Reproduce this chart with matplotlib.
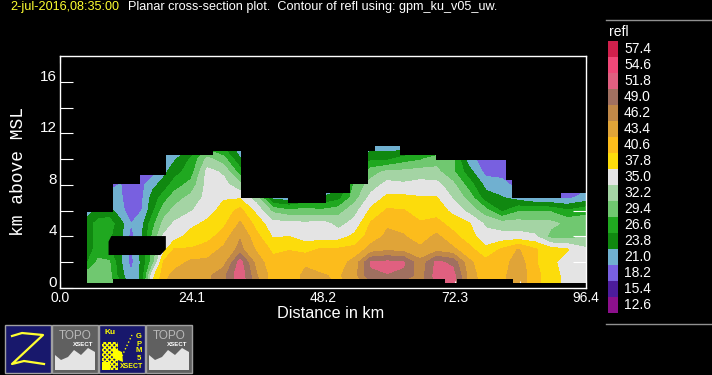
import numpy as np
import matplotlib
matplotlib.use('Agg')
import matplotlib.pyplot as plt
from matplotlib.patches import Rectangle, Polygon

# grid of the cross-section, km
dist = [5, 7, 9, 11, 13, 15, 17, 19, 21, 24, 27, 30, 33, 36, 39, 42, 45, 48, 51, 54, 57,
        60, 63, 66, 69, 72, 75, 78, 81, 84, 87, 90, 93, 96.4]
height = [0.4, 1, 2, 3, 4, 5, 6, 7, 8, 9, 10, 11]

# reflectivity, one list per distance, bottom to top
refl = [
    [31, 31, 26.5, 25, 25, 25.5, 22, 20, 20, 20, 20, 20],
    [30.5, 30.5, 30, 28, 28, 27.5, 25, 21, 20, 20, 20, 20],
    [30.5, 30.5, 29.8, 27, 27, 28, 25, 22, 20, 20, 20, 20],
    [27, 25, 24.5, 24, 25, 25, 22, 21.5, 21.2, 20, 20, 20],
    [22, 21.5, 20, 20.5, 20, 21, 19.5, 19, 19, 18, 18, 18],
    [24.5, 24.5, 24.5, 25, 23.5, 23, 21, 20.5, 20.3, 20, 20, 20],
    [38, 37, 31, 30, 30, 28.5, 26, 25, 23, 20, 20, 20],
    [43, 42, 41, 37, 35.5, 33, 31, 28, 25, 23, 22, 20],
    [45, 44.5, 42, 41, 36.5, 35.5, 33, 31, 28, 25.5, 23.5, 21],
    [46, 46, 44, 40.8, 39, 37, 34.8, 33, 30.5, 28, 27, 23],
    [45.5, 45.5, 44, 42, 39.5, 38.5, 36.5, 36, 36, 36, 33, 28],
    [48, 48, 45, 44, 42, 40, 39, 37.5, 36, 34.5, 30.5, 26],
    [54, 54, 53, 47, 46, 43.8, 41.5, 37.5, 33, 28, 24, 22],
    [47, 46.5, 45, 43, 41.5, 39.5, 37, 33.5, 30, 25, 22, 20],
    [42, 42, 41.5, 40, 37.5, 36, 31.5, 23, 21, 20, 20, 20],
    [42, 42, 41.5, 40.5, 37.8, 36, 30, 22, 21, 20, 20, 20],
    [44, 44, 43, 39.5, 36.5, 35.5, 30.5, 24, 21, 20, 20, 20],
    [44.5, 43.6, 42, 41, 36.5, 36.2, 30, 24, 21, 20, 20, 20],
    [43, 43, 42, 41, 36.5, 34, 31, 25.5, 22, 20, 20, 20],
    [44, 45, 44.5, 41.5, 38.5, 36, 34, 31, 30, 27, 23, 21],
    [48.5, 51.5, 52, 44.5, 42, 41, 38.5, 36, 33.5, 31, 26, 22.5],
    [49, 51.7, 52.5, 45.5, 44, 43, 41, 38.5, 36, 33, 26, 22],
    [48, 51.5, 52, 45, 43.6, 42.5, 40.8, 38.5, 35.5, 33, 28, 22],
    [47, 47.5, 47, 44, 42, 41, 39, 38, 36, 33.5, 29, 22],
    [53, 53, 52.5, 45, 44, 41.5, 39.5, 38, 36, 33, 31, 25],
    [53, 53, 51, 44, 41.5, 39.5, 37, 34.8, 33, 30, 30, 25],
    [45, 45, 44, 41.5, 39, 38, 34, 31, 28, 25, 22, 20],
    [42, 41.5, 41.5, 38.5, 36, 34.5, 30.5, 25, 23, 20, 19.5, 19],
    [42.5, 42.5, 42, 41, 36, 33.5, 26, 24, 22, 20, 19.5, 19],
    [45.5, 45.5, 45, 43.6, 36, 33.5, 29, 22.5, 20, 19, 19, 19],
    [41.5, 41.5, 41, 41, 35.5, 33, 29, 21, 20, 19, 19, 19],
    [39, 39, 38.5, 39, 31, 33, 29, 20.5, 20, 19, 19, 19],
    [36.8, 36.8, 36.5, 38, 31, 31.5, 27, 20.5, 20, 19, 19, 19],
    [36, 36, 36, 35.5, 32, 31, 28.5, 22, 20, 19, 19, 19],
]

# echo top and echo base, as steps
edge_x = [5.0, 9.8, 14.7, 19.4, 28.1, 33.1, 41.8, 48.7, 53.1, 56.5, 57.7, 62.3, 69.0,
          81.7, 82.8, 86.7, 91.9, 96.4]
top_km = [5.87, 8.06, 8.8, 10.3, 10.6, 7.0, 6.56, 7.39, 8.06, 10.6, 11.0, 10.3, 9.92,
          8.4, 7.0, 6.95, 7.34]
base_x = [5.0, 9.8, 70.5, 72.8, 83.0, 96.4]
base_km = [0.41, 0.72, 0.41, 0.72, 0.41]

# colour key, bottom to top
key_labels = ['12.6', '15.4', '18.2', '21.0', '23.8', '26.6', '29.4', '32.2', '35.0',
              '37.8', '40.6', '43.4', '46.2', '49.0', '51.8', '54.6', '57.4']
key_colors = ['#8c108c', '#4c1c9c', '#7860e0', '#70b0d0', '#108810', '#20a820', '#70c870',
              '#a4d4a4', '#e4e4e4', '#fcdc0c', '#fcbc1c', '#e0a438', '#c08848', '#a07060',
              '#e06080', '#f04878', '#d0204c']
key_levels = [float(s) for s in key_labels] + [60.2]

x_labels = ['0.0', '24.1', '48.2', '72.3', '96.4']
y_labels = ['0', '4', '8', '12', '16']

plt.rcParams['font.family'] = ['Liberation Sans', 'DejaVu Sans']
W, H = 712, 375
fig = plt.figure(figsize=(W / 100, H / 100), dpi=100, facecolor='black')

ax = fig.add_axes([60 / W, (H - 288) / H, 526 / W, 232 / H], facecolor='black')
ax.contourf(dist, height, np.array(refl).T, levels=key_levels, colors=key_colors, antialiased=False)

# cut the echo down to its outline
top_step = top_km + [top_km[-1]]
ax.fill_between(edge_x, top_step, 18, step='post', color='black', lw=0, zorder=2)
ax.fill_between(base_x, 0, base_km + [base_km[-1]], step='post', color='black', lw=0, zorder=2)
ax.add_patch(Polygon([(9.4, 4.03), (19.4, 4.03), (19.4, 3.0), (18.4, 2.56), (8.9, 2.56), (8.9, 3.6)],
                     color='black', lw=0, zorder=2))

ax.set_xlim(0, 96.4)
ax.set_ylim(0, 18)
ax.set_xticks(np.arange(0, 96.5, 12.05))
ax.set_yticks(np.arange(0, 17, 2))
ax.tick_params(axis='x', which='major', direction='in', top=True, bottom=True, length=5, width=0.8,
               color='white', labelbottom=False)
ax.tick_params(axis='y', which='major', direction='in', left=True, right=True, length=9.4, width=0.8,
               color='white', labelleft=False)
for s in ax.spines.values():
    s.set_color('white')
    s.set_linewidth(1)
    s.set_zorder(5)

# everything else goes on in pixel coordinates
ov = fig.add_axes([0, 0, 1, 1], facecolor='none')
ov.set_xlim(0, W)
ov.set_ylim(H, 0)
ov.axis('off')

ov.text(10, 7, '2-jul-2016,08:35:00', color='#ffff30', fontsize=9.1, va='center')
ov.text(128, 7, 'Planar cross-section plot.  Contour of refl using: gpm_ku_v05_uw.', color='white',
        fontsize=9.1, va='center')

for lab, km in zip(x_labels, [0, 24.1, 48.2, 72.3, 96.4]):
    ov.text(60 + km * 526 / 96.4, 298, lab, color='white', fontsize=10, ha='center', va='center')
for lab, km in zip(y_labels, [0, 4, 8, 12, 16]):
    ov.text(57, 283 - km * 12.89, lab, color='white', fontsize=11, ha='right', va='center')
ov.text(331, 314, 'Distance in km', color='white', fontsize=11.7, ha='center', va='center')
ov.text(19, 172, 'km above MSL', color='white', fontsize=13, family='Liberation Mono', rotation=90,
        ha='center', va='center')

# colour key
ov.plot([606, 712], [20, 20], color='#909090', lw=1)
ov.plot([606, 712], [324, 324], color='#909090', lw=1)
ov.text(609, 32, 'refl', color='white', fontsize=10, va='center')
for i, (lab, c) in enumerate(zip(key_labels, key_colors)):
    y0 = 313 - 16 * (i + 1)
    ov.add_patch(Rectangle((608, y0), 10, 16, color=c, lw=0))
    ov.text(624, y0 + 8, lab, color='white', fontsize=10, va='center')


def button(x0, face):
    ov.add_patch(Rectangle((x0, 325), 46, 48, facecolor=face, edgecolor='#a0a0a0', lw=1))


def topo_button(x0):
    button(x0, '#606060')
    ov.text(x0 + 23, 336, 'TOPO', color='#b8b8b8', fontsize=8.5, ha='center', va='center')
    ov.text(x0 + 31, 345, 'XSECT', color='white', fontsize=4.4, weight='bold', ha='center', va='center')
    ov.add_patch(Polygon([(x0 + 3, 370), (x0 + 3, 355), (x0 + 9, 360), (x0 + 16, 357), (x0 + 22, 350),
                          (x0 + 29, 355), (x0 + 36, 348), (x0 + 43, 352), (x0 + 43, 370)],
                         color='#e4e4e4', lw=0))


# icons under the plot
button(5, '#18186c')
ov.plot([12, 22, 43, 12, 24, 44], [336, 333, 335, 364, 361, 364], color='#ffff30', lw=1.6)
topo_button(52)
button(99, '#18186c')
ov.add_patch(Rectangle((102, 342), 16, 28, facecolor='none', edgecolor='#ffff00', hatch='xxxxxxx', lw=0))
ov.add_patch(Rectangle((102, 362), 8, 8, color='#ffff00', lw=0))
ov.add_patch(Polygon([(113, 348), (122, 352), (123, 362), (113, 358)], color='#ffff00', lw=0))
ov.plot([122, 132], [356, 335], color='#ffff00', lw=1, ls=':')
ov.text(110, 333, 'Ku', color='#ffff00', fontsize=6, weight='bold', ha='center', va='center')
for lab, y in zip(['G', 'P', 'M', '5'], [336, 344, 351, 359]):
    ov.text(139, y, lab, color='#ffff00', fontsize=5.5, weight='bold', ha='center', va='center')
ov.text(132, 367, 'XSECT', color='#ffff00', fontsize=5, weight='bold', ha='center', va='center')
topo_button(146)

fig.savefig('out.png', dpi=100, facecolor='black')
plt.close()
